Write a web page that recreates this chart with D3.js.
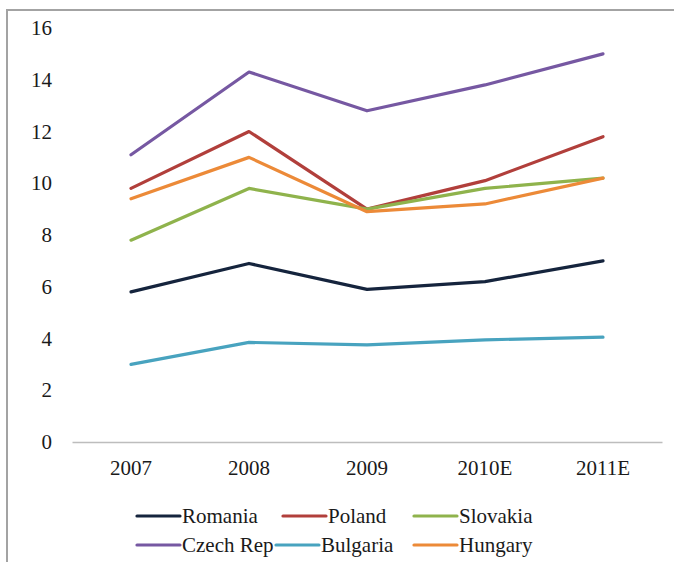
<!DOCTYPE html>
<html>
<head>
<meta charset="utf-8">
<script src="https://cdn.jsdelivr.net/npm/d3@7/dist/d3.min.js"></script>
<style>
  html, body { margin: 0; padding: 0; background: #fff; }
  svg { display: block; }
</style>
</head>
<body>
<svg id="chart" width="674" height="562"></svg>
<script>
// Years on the horizontal axis
const years = ["2007", "2008", "2009", "2010E", "2011E"];

// One array of values per country
const romania  = [5.8, 6.9, 5.9, 6.2, 7.0];
const poland   = [9.8, 12.0, 9.0, 10.1, 11.8];
const slovakia = [7.8, 9.8, 9.0, 9.8, 10.2];
const czechRep = [11.1, 14.3, 12.8, 13.8, 15.0];
const bulgaria = [3.0, 3.85, 3.75, 3.95, 4.05];
const hungary  = [9.4, 11.0, 8.9, 9.2, 10.2];

const countries = ["Romania", "Poland", "Slovakia", "Czech Rep", "Bulgaria", "Hungary"];
const seriesValues = [romania, poland, slovakia, czechRep, bulgaria, hungary];
const colors = ["#15243d", "#b13f3b", "#8fb34c", "#7658a2", "#48a3bf", "#ec8a38"];

const yTicks = [0, 2, 4, 6, 8, 10, 12, 14, 16];

const FONT = "Liberation Serif";
const FONT_SIZE = 21;
const TEXT_COLOR = "#1a1a1a";

// Serif styling applied directly on each text node
function serif(sel) {
  sel.attr("font-family", FONT)
     .attr("font-size", FONT_SIZE)
     .attr("fill", TEXT_COLOR);
}

const svg = d3.select("#chart");

// Frame along the top and left edges
svg.append("path")
  .attr("d", "M7,562 L7,10 L674,10")
  .attr("fill", "none")
  .attr("stroke", "#a3a3a3")
  .attr("stroke-width", 2);

const x = d3.scaleBand().domain(years).range([72, 662]).padding(0);
const y = d3.scaleLinear().domain([0, 16]).range([442, 28]);
const cx = d => x(d) + x.bandwidth() / 2;

// Value axis: labels only
const yAxis = svg.append("g")
  .attr("transform", "translate(57,0)")
  .call(d3.axisLeft(y).tickValues(yTicks).tickSize(0).tickPadding(5));
yAxis.select(".domain").remove();
yAxis.selectAll("text").call(serif);

// Category axis with its baseline
const xAxis = svg.append("g")
  .attr("transform", "translate(0,442)")
  .call(d3.axisBottom(x).tickSize(0).tickSizeOuter(0).tickPadding(0));
xAxis.select(".domain")
  .attr("stroke", "#bdbdbd")
  .attr("stroke-width", 1.6);
xAxis.selectAll("text")
  .attr("y", 26)
  .attr("dy", "0.32em")
  .call(serif);

// Country lines
const line = d3.line()
  .x((v, i) => cx(years[i]))
  .y(v => y(v));

svg.append("g")
  .selectAll("path")
  .data(seriesValues)
  .join("path")
  .attr("d", d => line(d))
  .attr("fill", "none")
  .attr("stroke", (d, i) => colors[i])
  .attr("stroke-width", 3.2)
  .attr("stroke-linejoin", "round")
  .attr("stroke-linecap", "round");

// Legend in two rows of three
const legendRows = [516, 545];
const legendCols = [[137, 283, 414], [137, 276, 414]];
const legend = svg.append("g");
countries.forEach((name, i) => {
  const row = Math.floor(i / 3), col = i % 3;
  const lx = legendCols[row][col], ly = legendRows[row];
  legend.append("line")
    .attr("x1", lx).attr("x2", lx + 43)
    .attr("y1", ly).attr("y2", ly)
    .attr("stroke", colors[i])
    .attr("stroke-width", 3.2)
    .attr("stroke-linecap", "round");
  legend.append("text")
    .attr("x", lx + 45)
    .attr("y", ly)
    .attr("dy", "0.33em")
    .call(serif)
    .text(name);
});
</script>
</body>
</html>
